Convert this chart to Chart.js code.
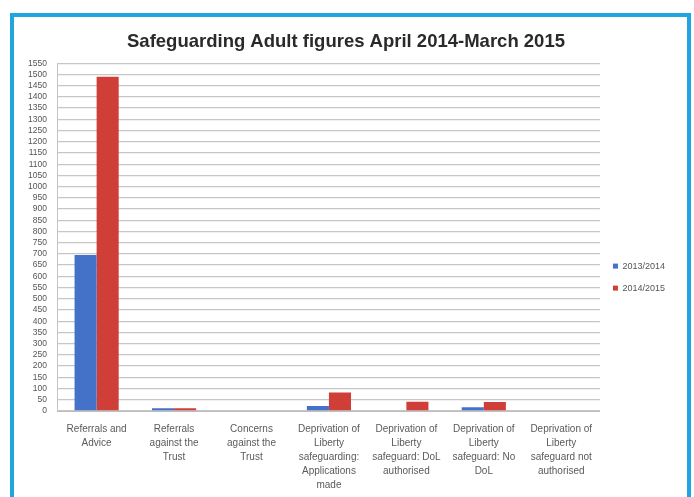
<!DOCTYPE html>
<html lang="en"><head>
<title>Safeguarding Adult figures</title>
<meta charset="utf-8">
<style type="text/css">
body { margin:0; background:#ffffff; }
#frame { position:absolute; left:10px; top:13px; width:673px; height:600px;
         border:4px solid #1fa6e0; border-bottom:none; }
#myChart { position:absolute; left:0; top:0; }
</style>
<script src="https://cdn.jsdelivr.net/npm/chart.js"></script>
<script>
// values
categories=[
  ["Referrals and","Advice"],
  ["Referrals","against the","Trust"],
  ["Concerns","against the","Trust"],
  ["Deprivation of","Liberty","safeguarding:","Applications","made"],
  ["Deprivation of","Liberty","safeguard: DoL","authorised"],
  ["Deprivation of","Liberty","safeguard: No","DoL"],
  ["Deprivation of","Liberty","safeguard not","authorised"]];
seriesNames=["2013/2014","2014/2015"];
values1314=[695,12,3,22,3,17,0];
values1415=[1490,12,3,82,41,40,0];
yMin=0; yMax=1550; yStep=50;

function initChart() {
  data={labels:categories,datasets:[{
    label:seriesNames[0],data:values1314,
    backgroundColor:'#4472c8',borderWidth:0},{
    label:seriesNames[1],data:values1415,
    backgroundColor:'#cf3f38',borderWidth:0}]};

  config={type:'bar',data,options:{
    responsive:false,animation:false,devicePixelRatio:1,
    categoryPercentage:0.57,barPercentage:1.0,
    layout:{padding:{left:17,right:19,top:0,bottom:0}},
    scales:{
      x:{grid:{display:false},border:{display:true,color:'#bdbdbd',width:1},
         afterFit:function(s){s.height=86;},
         ticks:{autoSkip:false,maxRotation:0,minRotation:0,padding:3,color:'#5a5a5a',
                font:{family:'Liberation Sans',size:10,lineHeight:1.4}}},
      y:{min:yMin,max:yMax,
         grid:{color:'#c6c6c6',lineWidth:1.3,drawTicks:false},
         border:{display:true,color:'#c4c4c4',width:1},
         ticks:{stepSize:yStep,autoSkip:false,padding:11,color:'#555',
                callback:function(v){return String(v);},
                font:{family:'Liberation Sans',size:8.5}}}},
    plugins:{
      title:{display:true,text:'Safeguarding Adult figures April 2014-March 2015',
             color:'#2a2a2a',padding:{top:31,bottom:10},
             font:{family:'Liberation Sans',size:18.5,weight:'bold',lineHeight:1.2}},
      legend:{position:'right',align:'center',
              title:{display:true,text:' ',padding:{top:56,bottom:0},font:{size:1}},
              labels:{boxWidth:5,boxHeight:5,padding:13,color:'#555',
                      font:{family:'Liberation Sans',size:9}}},
      tooltip:{enabled:false}}}};

  myChart=new Chart(document.getElementById('myChart'),config); }
</script></head>
<body onload="initChart();">
<div id="frame"></div>
<canvas id="myChart" width="694" height="497"></canvas>
</body></html>
